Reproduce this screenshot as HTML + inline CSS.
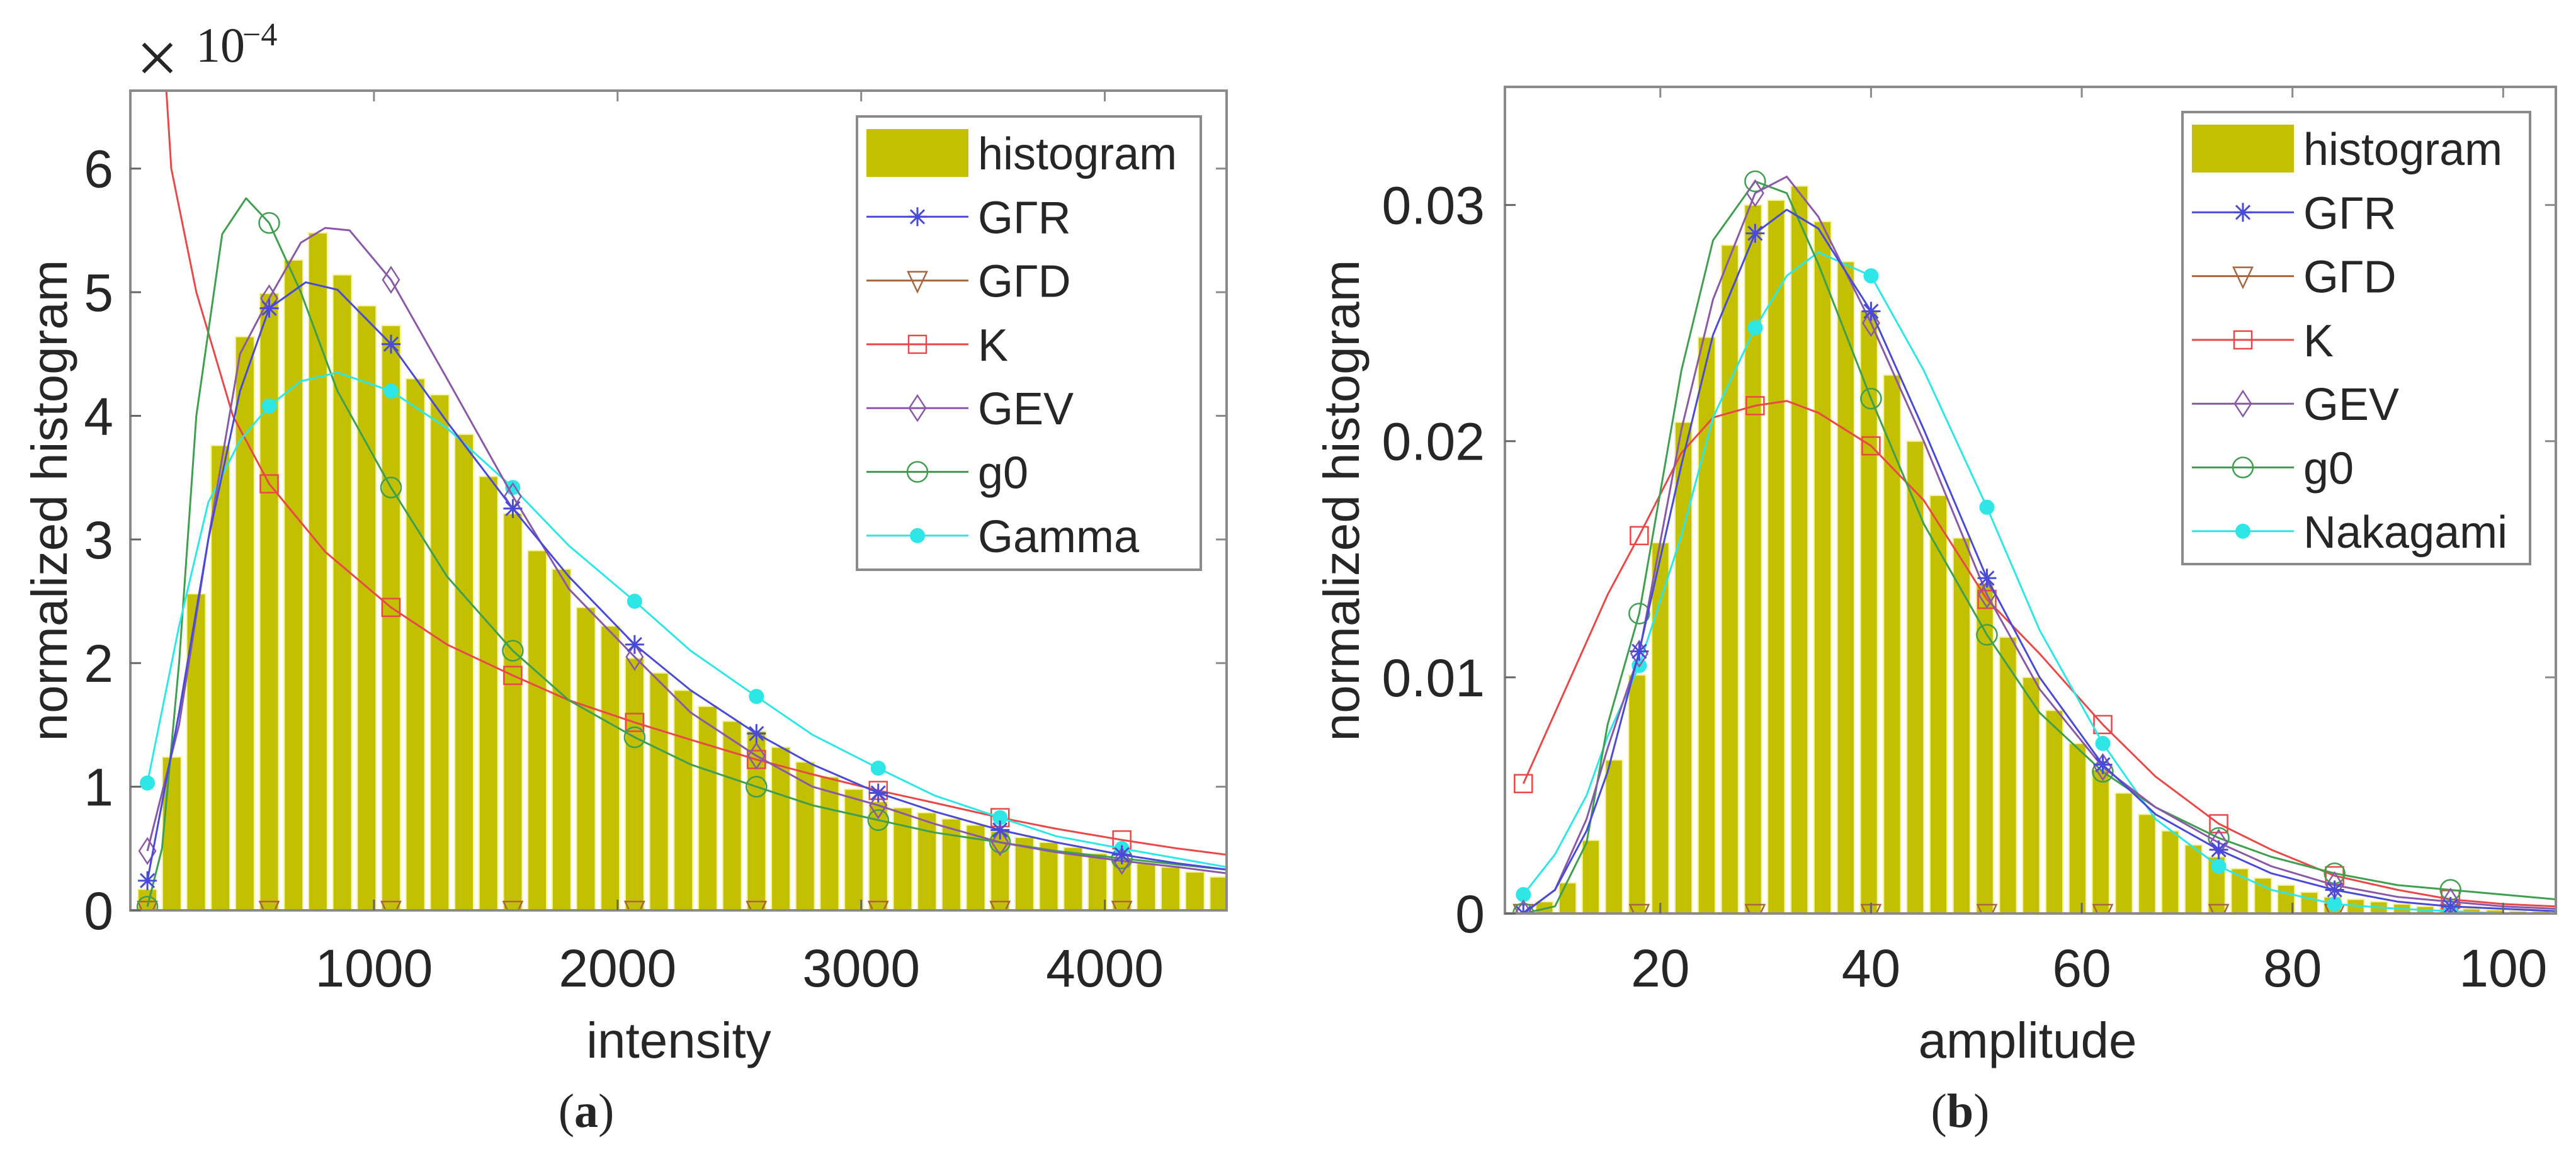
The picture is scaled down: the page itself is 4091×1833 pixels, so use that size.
<!DOCTYPE html>
<html><head><meta charset="utf-8">
<style>
html,body{margin:0;padding:0;background:#fff;}
svg{display:block;}
text{font-family:"Liberation Sans",sans-serif;fill:#262626;}
.serif{font-family:"Liberation Serif",serif;}
</style></head>
<body>
<svg id="fig" width="4091" height="1833" viewBox="0 0 4091 1833" xmlns="http://www.w3.org/2000/svg">
<defs>
<clipPath id="clipA"><rect x="207" y="144" width="1741" height="1302"/></clipPath>
<clipPath id="clipB"><rect x="2390" y="138" width="1669" height="1313"/></clipPath>
</defs>
<g id="panelA"></g>
<g id="panelB"></g>
</svg>
<script>
// ---------- Panel (a) data (y values in units of 1e-4) ----------
const aBarX = [70,170,270,370,470,570,670,770,870,970,1070,1170,1270,1370,1470,1570,1670,1770,1870,1970,2070,2170,2270,2370,2470,2570,2670,2770,2870,2970,3070,3170,3270,3370,3470,3570,3670,3770,3870,3970,4070,4170,4270,4370,4470];
const aBarY = [0.17,1.24,2.56,3.76,4.64,4.99,5.26,5.48,5.14,4.89,4.73,4.30,4.17,3.85,3.51,3.21,2.91,2.76,2.45,2.30,2.04,1.92,1.78,1.65,1.53,1.45,1.32,1.20,1.08,0.98,0.88,0.83,0.79,0.74,0.69,0.64,0.59,0.55,0.51,0.46,0.42,0.38,0.35,0.31,0.27];
const aMarkX = [70,570,1070,1570,2070,2570,3070,3570,4070];
const aGTRx = [70,200,320,450,570,720,850,1070,1300,1570,1800,2070,2300,2570,2800,3070,3300,3570,3800,4070,4300,4500];
const aGTRy = [0.24,1.6,3.0,4.2,4.87,5.08,5.02,4.58,3.95,3.25,2.7,2.15,1.78,1.43,1.18,0.95,0.8,0.65,0.55,0.45,0.38,0.33];
const aGTDx = [70,570,1070,1570,2070,2570,3070,3570,4070,4500];
const aGTDy = [0,0,0,0,0,0,0,0,0,0];
const aKx = [70,120,168,271,421,570,800,1070,1300,1570,1800,2070,2300,2570,2800,3070,3300,3570,3800,4070,4300,4500];
const aKy = [12,7.5,6.0,5.0,4.0,3.45,2.9,2.45,2.15,1.9,1.7,1.52,1.38,1.22,1.1,0.97,0.87,0.75,0.66,0.57,0.5,0.45];
const aGEVx = [70,200,320,450,570,700,800,900,1070,1300,1570,1800,2070,2300,2570,2800,3070,3300,3570,3800,4070,4300,4500];
const aGEVy = [0.48,1.5,3.0,4.5,4.95,5.4,5.52,5.5,5.1,4.3,3.35,2.6,2.05,1.6,1.25,1.0,0.85,0.7,0.55,0.47,0.4,0.35,0.3];
const aG0x = [70,130,200,271,377,475,570,700,850,1070,1300,1570,1800,2070,2300,2570,2800,3070,3300,3570,3800,4070,4300,4500];
const aG0y = [0.03,0.5,2.0,4.0,5.47,5.76,5.56,5.0,4.2,3.42,2.7,2.1,1.7,1.4,1.18,1.0,0.85,0.73,0.63,0.55,0.48,0.42,0.37,0.33];
const aGamx = [70,200,320,450,570,700,850,1070,1300,1570,1800,2070,2300,2570,2800,3070,3300,3570,3800,4070,4300,4500];
const aGamy = [1.03,2.3,3.3,3.8,4.08,4.28,4.35,4.2,3.9,3.42,2.95,2.5,2.1,1.73,1.42,1.15,0.93,0.75,0.6,0.5,0.42,0.35];
const aXTicks = [1000,2000,3000,4000];
const aYTicks = [0,1,2,3,4,5,6];

// ---------- Panel (b) data ----------
const bBarX = [9.0,11.2,13.4,15.6,17.8,20.0,22.2,24.4,26.6,28.8,31.0,33.2,35.4,37.6,39.8,42.0,44.2,46.4,48.6,50.8,53.0,55.2,57.4,59.6,61.8,64.0,66.2,68.4,70.6,72.8,75.0,77.2,79.4,81.6,83.8,86.0,88.2,90.4,92.6,94.8,97.0,99.2,101.4,103.6];
const bBarY = [0.0005,0.0013,0.0031,0.0065,0.0101,0.0157,0.0208,0.0244,0.0283,0.0300,0.0302,0.0308,0.0293,0.0276,0.0255,0.0228,0.0200,0.0177,0.0159,0.0140,0.0117,0.0100,0.0086,0.0072,0.0061,0.0051,0.0042,0.0035,0.0029,0.0024,0.0019,0.0015,0.0012,0.0009,0.0007,0.0006,0.0005,0.0004,0.0003,0.00025,0.0002,0.00015,0.0001,0.0001];
const bMarkX = [7,18,29,40,51,62,73,84,95];
const bCurveX = [7,10,13,15,18,22,25,29,32,35,40,45,51,56,62,67,73,78,84,90,95,100,105];
const bGTRy = [0.0,0.001,0.0035,0.006,0.0111,0.019,0.0245,0.0288,0.0298,0.029,0.0255,0.0205,0.0142,0.010,0.0063,0.0042,0.0027,0.0017,0.001,0.0005,0.0003,0.0002,0.0001];
const bGTDy = [0,0,0,0,0,0,0,0,0,0,0,0,0,0,0,0,0,0,0,0,0,0,0];
const bKy = [0.0055,0.0085,0.0115,0.0135,0.016,0.0195,0.021,0.0215,0.0217,0.0212,0.0198,0.0175,0.0133,0.011,0.008,0.0058,0.0038,0.0027,0.0016,0.001,0.0006,0.0004,0.0003];
const bGEVy = [0.0,0.001,0.004,0.007,0.011,0.0205,0.026,0.0305,0.0312,0.0295,0.025,0.020,0.0135,0.0095,0.0062,0.0045,0.003,0.002,0.0012,0.0007,0.0005,0.0003,0.0002];
const bG0y = [0.0,0.0003,0.003,0.008,0.0127,0.023,0.0285,0.031,0.0305,0.0275,0.0218,0.0165,0.0118,0.0085,0.006,0.0045,0.0032,0.0024,0.0017,0.0012,0.001,0.0008,0.0006];
const bNakay = [0.0008,0.0025,0.005,0.0075,0.0105,0.016,0.021,0.0248,0.027,0.028,0.027,0.023,0.0172,0.012,0.0072,0.004,0.002,0.001,0.0004,0.0002,0.0001,0.0,0.0];
const bXTicks = [20,40,60,80,100];
const bYTicks = [0,0.01,0.02,0.03];
const bYTickLabels = ["0","0.01","0.02","0.03"];

const NS = "http://www.w3.org/2000/svg";
function mk(tag, attrs, parent){ const e=document.createElementNS(NS,tag); for(const k in attrs) e.setAttribute(k,attrs[k]); if(parent) parent.appendChild(e); return e; }
function scale(d0,d1,r0,r1){ return v => r0+(v-d0)/(d1-d0)*(r1-r0); }

const COL = {hist:"#c2c000", gtr:"#4a4ad8", gtd:"#a8643c", k:"#e84848", gev:"#8a58a8", g0:"#3f9f4f", gam:"#2ee6e6"};

function marker(g, type, cx, cy, color){
  const s=15;
  let m;
  if(type==="star"){
    m = mk("path",{d:`M${cx-s} ${cy}H${cx+s}M${cx} ${cy-s}V${cy+s}M${cx-11} ${cy-11}L${cx+11} ${cy+11}M${cx-11} ${cy+11}L${cx+11} ${cy-11}`,stroke:color,"stroke-width":3,fill:"none"},g);
  } else if(type==="tri"){
    m = mk("path",{d:`M${cx-15} ${cy-14}H${cx+15}L${cx} ${cy+18}Z`,stroke:color,"stroke-width":2.5,fill:"none"},g);
  } else if(type==="sq"){
    m = mk("rect",{x:cx-14,y:cy-14,width:28,height:28,stroke:color,"stroke-width":2.5,fill:"none"},g);
  } else if(type==="dia"){
    m = mk("path",{d:`M${cx} ${cy-20}L${cx+13} ${cy}L${cx} ${cy+20}L${cx-13} ${cy}Z`,stroke:color,"stroke-width":2.5,fill:"none"},g);
  } else if(type==="circ"){
    m = mk("circle",{cx:cx,cy:cy,r:16,stroke:color,"stroke-width":2.5,fill:"none"},g);
  } else if(type==="dot"){
    m = mk("circle",{cx:cx,cy:cy,r:12,fill:color},g);
  }
  return m;
}

function drawSeries(g, xs, ys, markXs, sx, sy, color, mtype, name){
  const sg = mk("g",{},g);
  
  
  const pts = xs.map((x,i)=>sx(x).toFixed(1)+","+sy(ys[i]).toFixed(1)).join(" ");
  const pl = mk("polyline",{points:pts,fill:"none",stroke:color,"stroke-width":3,"stroke-linejoin":"round"},sg);
  
  
  xs.forEach((x,i)=>{
    if(markXs.indexOf(x)>=0){
      const m = marker(sg, mtype, sx(x), sy(ys[i]), color);
      
      
    }
  });
}

function drawAxes(g, X0,X1,Y0,Y1, sx, sy, xt, xtl, yt, ytl, yLabRight){
  const ax = mk("g",{},g);
  
  
  mk("rect",{x:X0,y:Y0,width:X1-X0,height:Y1-Y0,fill:"none",stroke:"#8a8a8a","stroke-width":4},ax);
  xt.forEach((v,i)=>{
    const x=sx(v);
    mk("line",{x1:x,y1:Y1,x2:x,y2:Y1-17,stroke:"#666","stroke-width":3},ax);
    mk("line",{x1:x,y1:Y0,x2:x,y2:Y0+17,stroke:"#8a8a8a","stroke-width":3},ax);
    const t = mk("text",{x:x,y:1567,"font-size":84,"text-anchor":"middle"},g);
    t.textContent = xtl[i];
    
    
  });
  yt.forEach((v,i)=>{
    const y=sy(v);
    mk("line",{x1:X0,y1:y,x2:X0+17,y2:y,stroke:"#666","stroke-width":3},ax);
    mk("line",{x1:X1,y1:y,x2:X1-17,y2:y,stroke:"#8a8a8a","stroke-width":3},ax);
    const t = mk("text",{x:yLabRight,y:y+30,"font-size":84,"text-anchor":"end"},g);
    t.textContent = ytl[i];
    
    
  });
}

function drawLegend(g, x, y, w, h, entries){
  const lg = mk("g",{},g);
  
  
  mk("rect",{x:x,y:y,width:w,height:h,fill:"#fff",stroke:"#8a8a8a","stroke-width":4},lg);
  entries.forEach((e,i)=>{
    const cy = y+58+i*101.3;
    const eg = mk("g",{},lg);
    
    
    const sx0 = x+15, sx1 = x+177;
    if(e.type==="bar"){
      mk("rect",{x:sx0,y:cy-38,width:162,height:76,fill:COL.hist},eg);
    } else {
      mk("line",{x1:sx0,y1:cy,x2:sx1,y2:cy,stroke:e.color,"stroke-width":3},eg);
      marker(eg, e.type, (sx0+sx1)/2, cy, e.color);
    }
    const t = mk("text",{x:x+192,y:cy+26,"font-size":72},eg);
    t.textContent = e.label;
  });
}

// ---------- Panel (a) ----------
(function(){
  const g = document.getElementById("panelA");
  const X0=207,X1=1948,Y0=144,Y1=1446;
  const sx = scale(0,4500,X0,X1), sy = scale(0,6.63,Y1,Y0);
  const plot = mk("g",{"clip-path":"url(#clipA)"},g);
  
  
  const bw = 77;
  aBarX.forEach((x,i)=>{
    const r = mk("rect",{x:sx(x-bw/2),y:sy(aBarY[i]),width:sx(bw)-sx(0),height:Y1-sy(aBarY[i]),fill:COL.hist,stroke:"#f4f29a","stroke-width":2},plot);
    
    
  });
  drawSeries(plot, aGTDx, aGTDy, aMarkX, sx, sy, COL.gtd, "tri", "gtd");
  drawSeries(plot, aKx, aKy, aMarkX, sx, sy, COL.k, "sq", "k");
  drawSeries(plot, aG0x, aG0y, aMarkX, sx, sy, COL.g0, "circ", "g0");
  drawSeries(plot, aGamx, aGamy, aMarkX, sx, sy, COL.gam, "dot", "gamma");
  drawSeries(plot, aGEVx, aGEVy, aMarkX, sx, sy, COL.gev, "dia", "gev");
  drawSeries(plot, aGTRx, aGTRy, aMarkX, sx, sy, COL.gtr, "star", "gtr");
  drawAxes(g,X0,X1,Y0,Y1,sx,sy,aXTicks,aXTicks.map(String),aYTicks,aYTicks.map(String),180);
  drawLegend(g,1361,185,546,720,[
    {key:"histogram",type:"bar",label:"histogram"},
    {key:"gtr",type:"star",color:COL.gtr,label:"GΓR"},
    {key:"gtd",type:"tri",color:COL.gtd,label:"GΓD"},
    {key:"k",type:"sq",color:COL.k,label:"K"},
    {key:"gev",type:"dia",color:COL.gev,label:"GEV"},
    {key:"g0",type:"circ",color:COL.g0,label:"g0"},
    {key:"gamma",type:"dot",color:COL.gam,label:"Gamma"}]);
  const xl = mk("text",{x:1078,y:1680,"font-size":80,"text-anchor":"middle"},g);
  xl.textContent="intensity";
  
  
  const yl = mk("text",{x:0,y:0,"font-size":80,"text-anchor":"middle",transform:"translate(106,795) rotate(-90)"},g);
  yl.textContent="normalized histogram";
  
  
  const ex = mk("text",{x:216,y:132,"font-size":120,"class":"serif"},g);
  ex.textContent="×";
  
  
  const e2 = mk("text",{x:311,y:98,"font-size":78,"class":"serif"},g);
  e2.textContent="10";
  
  
  const e3 = mk("text",{x:385,y:72,"font-size":52,"class":"serif"},g);
  e3.textContent="−4";
  
  
  const cap = mk("text",{x:931,y:1790,"font-size":76,"text-anchor":"middle","class":"serif"},g);
  cap.innerHTML='(<tspan font-weight="bold">a</tspan>)';
  
  
})();

// ---------- Panel (b) ----------
(function(){
  const g = document.getElementById("panelB");
  const X0=2390,X1=4059,Y0=138,Y1=1451;
  const sx = scale(5.25,105,X0,X1), sy = scale(0,0.035,Y1,Y0);
  const plot = mk("g",{"clip-path":"url(#clipB)"},g);
  
  
  const bw = 1.62;
  bBarX.forEach((x,i)=>{
    const r = mk("rect",{x:sx(x-bw/2),y:sy(bBarY[i]),width:sx(bw)-sx(0),height:Y1-sy(bBarY[i]),fill:COL.hist,stroke:"#f4f29a","stroke-width":2},plot);
    
    
  });
  drawSeries(plot, bCurveX, bGTDy, bMarkX, sx, sy, COL.gtd, "tri", "gtd");
  drawSeries(plot, bCurveX, bKy, bMarkX, sx, sy, COL.k, "sq", "k");
  drawSeries(plot, bCurveX, bNakay, bMarkX, sx, sy, COL.gam, "dot", "nakagami");
  drawSeries(plot, bCurveX, bG0y, bMarkX, sx, sy, COL.g0, "circ", "g0");
  drawSeries(plot, bCurveX, bGEVy, bMarkX, sx, sy, COL.gev, "dia", "gev");
  drawSeries(plot, bCurveX, bGTRy, bMarkX, sx, sy, COL.gtr, "star", "gtr");
  drawAxes(g,X0,X1,Y0,Y1,sx,sy,bXTicks,bXTicks.map(String),bYTicks,bYTickLabels,2358);
  drawLegend(g,3466,178,552,718,[
    {key:"histogram",type:"bar",label:"histogram"},
    {key:"gtr",type:"star",color:COL.gtr,label:"GΓR"},
    {key:"gtd",type:"tri",color:COL.gtd,label:"GΓD"},
    {key:"k",type:"sq",color:COL.k,label:"K"},
    {key:"gev",type:"dia",color:COL.gev,label:"GEV"},
    {key:"g0",type:"circ",color:COL.g0,label:"g0"},
    {key:"nakagami",type:"dot",color:COL.gam,label:"Nakagami"}]);
  const xl = mk("text",{x:3220,y:1680,"font-size":80,"text-anchor":"middle"},g);
  xl.textContent="amplitude";
  
  
  const yl = mk("text",{x:0,y:0,"font-size":80,"text-anchor":"middle",transform:"translate(2158,795) rotate(-90)"},g);
  yl.textContent="normalized histogram";
  
  
  const cap = mk("text",{x:3113,y:1790,"font-size":76,"text-anchor":"middle","class":"serif"},g);
  cap.innerHTML='(<tspan font-weight="bold">b</tspan>)';
  
  
})();
</script>
</body></html>
